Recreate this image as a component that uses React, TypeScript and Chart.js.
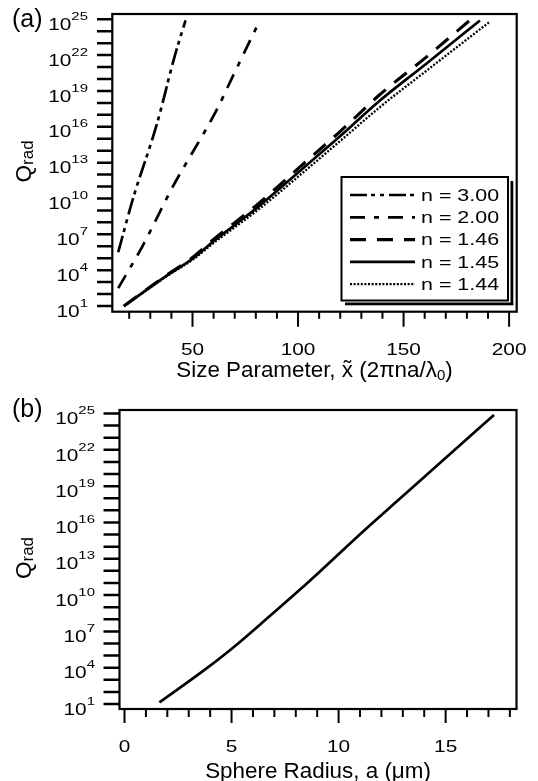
import React, { useEffect, useRef } from "react";
import { Chart, registerables } from "chart.js";

Chart.register(...registerables);

const W = 538;
const FONT = '"Liberation Sans", Arial, Helvetica, sans-serif';

// ---------- Panel (a): Q_rad against size parameter ----------
const seriesLabels = ["n = 3.00", "n = 2.00", "n = 1.46", "n = 1.45", "n = 1.44"];

// size parameter values and log10(Q_rad) for each refractive index
const sizeParam300 = [14.8, 22, 33, 41.7, 46.7];
const logQ300 = [5.5, 10.1, 16.15, 22.0, 24.9];

const sizeParam200 = [14.8, 26.6, 40.1, 61.4, 69.3, 81.9];
const logQ200 = [2.5, 6.1, 10.8, 17.4, 20.3, 24.9];

const sizeParam146 = [17.5, 38.3, 50.3, 59.8, 70.9, 81.1, 100.9, 119.9, 138.8, 160.9, 181.1];
const logQ146 = [1.0, 3.65, 5.1, 6.55, 8.1, 9.55, 12.65, 15.6, 18.7, 21.85, 24.87];

const sizeParam145 = [17.5, 38.3, 50.3, 59.8, 70.9, 81.1, 100.9, 119.9, 138.8, 160.9, 186.2];
const logQ145 = [1.0, 3.6, 5.0, 6.4, 7.9, 9.3, 12.3, 15.2, 18.2, 21.3, 24.9];

const sizeParam144 = [17.5, 38.3, 50.3, 59.8, 70.9, 81.1, 100.9, 119.9, 138.8, 160.9, 190.9];
const logQ144 = [0.98, 3.55, 4.9, 6.25, 7.7, 9.05, 11.95, 14.8, 17.65, 20.7, 24.8];

// ---------- Panel (b): Q_rad against sphere radius (n = 1.45) ----------
const radiusUm = [1.63, 3.8, 5.08, 6.68, 8.29, 9.13, 11.31, 12.87, 14.42, 15.98, 17.26];
const logQRadius = [1.13, 3.9, 5.67, 8.1, 10.6, 11.95, 15.52, 17.97, 20.42, 22.88, 24.88];

// ---------- Axis ticks ----------
const yTickExps = [1, 2, 3, 4, 5, 6, 7, 8, 9, 10, 11, 12, 13, 14, 15, 16, 17, 18, 19, 20, 21, 22, 23, 24, 25];
const yLabelExps = [1, 4, 7, 10, 13, 16, 19, 22, 25];
const xTicksA = [20, 30, 40, 50, 60, 70, 80, 90, 100, 110, 120, 130, 140, 150, 160, 170, 180, 190, 200];
const xLabelsA = [50, 100, 150, 200];
const xTicksB = [0, 1, 2, 3, 4, 5, 6, 7, 8, 9, 10, 11, 12, 13, 14, 15, 16, 17, 18];
const xLabelsB = [0, 5, 10, 15];

// line style per series in panel (a)
const lineStyles = [
  { dash: [17, 4, 4, 5, 4, 5], width: 2.7 },
  { dash: [15, 9, 5, 9], width: 2.7 },
  { dash: [16, 11], width: 3.1 },
  { dash: [] as number[], width: 2.7 },
  { dash: [2, 1.6], width: 2.3 },
];

type Seg = { t: string; size: number; dy?: number; tilde?: boolean };

function textWidth(ctx: CanvasRenderingContext2D, s: string, size: number, sx = 1) {
  ctx.font = `${size}px ${FONT}`;
  return ctx.measureText(s).width * sx;
}

function drawText(
  ctx: CanvasRenderingContext2D,
  s: string,
  x: number,
  y: number,
  size: number,
  sx = 1,
  align: "left" | "center" | "right" = "left"
) {
  const w = textWidth(ctx, s, size, sx);
  let x0 = x;
  if (align === "center") x0 = x - w / 2;
  else if (align === "right") x0 = x - w;
  ctx.save();
  ctx.font = `${size}px ${FONT}`;
  ctx.translate(x0, y);
  ctx.scale(sx, 1);
  ctx.textAlign = "left";
  ctx.textBaseline = "alphabetic";
  ctx.fillStyle = "#000";
  ctx.fillText(s, 0, 0);
  ctx.restore();
  return w;
}

function drawSegments(ctx: CanvasRenderingContext2D, segs: Seg[], cx: number, baseline: number) {
  const total = segs.reduce((acc, s) => acc + textWidth(ctx, s.t, s.size), 0);
  let x = cx - total / 2;
  for (const s of segs) {
    const w = drawText(ctx, s.t, x, baseline + (s.dy || 0), s.size);
    if (s.tilde) drawText(ctx, "\u02DC", x + w / 2, baseline - 1, s.size, 1, "center");
    x += w;
  }
}

interface Deco {
  panelLabel: string;
  panelLabelBaseline: number;
  yLabelRight: number;
  yTickLeft: number;
  xTicks: number[];
  xLabels: number[];
  majorLen: number;
  minorLen: number;
  xLabelOffset: number;
  xTitle: Seg[];
  xTitleOffset: number;
  legend: boolean;
}

function decoPlugin(d: Deco) {
  return {
    id: "frameAndLabels",
    afterDraw(chart: any) {
      const ctx: CanvasRenderingContext2D = chart.ctx;
      const { left, right, top, bottom } = chart.chartArea;
      const xs = chart.scales.x;
      const ys = chart.scales.y;
      ctx.save();
      ctx.strokeStyle = "#000";
      ctx.fillStyle = "#000";

      // plot frame
      ctx.lineWidth = 2.2;
      ctx.setLineDash([]);
      ctx.strokeRect(left, top, right - left, bottom - top);

      // y ticks: one per decade
      ctx.lineWidth = 2.5;
      ctx.beginPath();
      for (const e of yTickExps) {
        const py = ys.getPixelForValue(Math.pow(10, e));
        ctx.moveTo(d.yTickLeft, py);
        ctx.lineTo(left, py);
      }
      ctx.stroke();

      // y labels as 10^e
      for (const e of yLabelExps) {
        const py = ys.getPixelForValue(Math.pow(10, e));
        const sx = 1.3;
        const we = textWidth(ctx, String(e), 11.5, sx);
        const wb = textWidth(ctx, "10", 16, sx);
        drawText(ctx, "10", d.yLabelRight - we - wb, py + 10.7, 16, sx);
        drawText(ctx, String(e), d.yLabelRight - we, py + 0.7, 11.5, sx);
      }

      // x ticks
      ctx.lineWidth = 2;
      ctx.beginPath();
      for (const v of d.xTicks) {
        const px = xs.getPixelForValue(v);
        const len = d.xLabels.includes(v) ? d.majorLen : d.minorLen;
        ctx.moveTo(px, bottom);
        ctx.lineTo(px, bottom + len);
      }
      ctx.stroke();
      for (const v of d.xLabels) {
        const px = xs.getPixelForValue(v);
        drawText(ctx, String(v), px, bottom + d.xLabelOffset, 16, 1.3, "center");
      }

      // x title
      drawSegments(ctx, d.xTitle, (left + right) / 2, bottom + d.xTitleOffset);

      // y title: Q with subscript "rad", rotated
      ctx.save();
      const cy = (top + bottom) / 2 - 1.5;
      ctx.translate(31, cy);
      ctx.rotate(-Math.PI / 2);
      const wq = textWidth(ctx, "Q", 22.5);
      const wr = textWidth(ctx, "rad", 17);
      const x0 = -(wq + wr) / 2;
      ctx.font = `22.5px ${FONT}`;
      ctx.textBaseline = "alphabetic";
      ctx.fillText("Q", x0, 0);
      ctx.font = `17px ${FONT}`;
      ctx.fillText("rad", x0 + wq, 1.5);
      ctx.restore();

      // panel label
      drawText(ctx, d.panelLabel, 12, d.panelLabelBaseline, 25);

      // legend
      if (d.legend) {
        const bx = 341.5, by = 177, bw = 166.5, bh = 123.5;
        ctx.fillStyle = "#fff";
        ctx.fillRect(bx, by, bw, bh);
        ctx.fillStyle = "#000";
        ctx.lineWidth = 2;
        ctx.strokeRect(bx, by, bw, bh);
        ctx.fillRect(bx + bw + 2.5, by + 4, 2.8, bh + 0.5);
        ctx.fillRect(bx + 3.5, by + bh + 2, bw + 1.8, 2.8);
        seriesLabels.forEach((lab, i) => {
          const rowY = 195 + i * 22.3;
          const st = lineStyles[i];
          ctx.lineWidth = st.width;
          ctx.setLineDash(st.dash);
          ctx.lineCap = "butt";
          ctx.beginPath();
          ctx.moveTo(350, rowY);
          ctx.lineTo(415, rowY);
          ctx.stroke();
          ctx.setLineDash([]);
          drawText(ctx, lab, 421, rowY + 5.7, 16, 1.34);
        });
      }
      ctx.restore();
    },
  };
}

function makeDataset(label: string, xs: number[], logs: number[], dash: number[], width: number) {
  return {
    label,
    data: xs.map((x, i) => ({ x, y: Math.pow(10, logs[i]) })),
    borderColor: "#000",
    backgroundColor: "#000",
    borderWidth: width,
    borderDash: dash,
    borderCapStyle: "butt" as const,
    pointRadius: 0,
    fill: false,
    cubicInterpolationMode: "monotone" as const,
  };
}

function configA() {
  const xsets = [sizeParam300, sizeParam200, sizeParam146, sizeParam145, sizeParam144];
  const qsets = [logQ300, logQ200, logQ146, logQ145, logQ144];
  return {
    type: "line" as const,
    data: {
      datasets: seriesLabels.map((lab, i) =>
        makeDataset(lab, xsets[i], qsets[i], lineStyles[i].dash, lineStyles[i].width)
      ),
    },
    options: {
      responsive: false,
      animation: false as const,
      devicePixelRatio: 1,
      events: [],
      layout: { padding: { left: 112.3, top: 14, right: W - 516.7, bottom: 390 - 311.7 } },
      scales: {
        x: { type: "linear" as const, display: false, min: 12, max: 203.6 },
        y: { type: "logarithmic" as const, display: false, min: Math.pow(10, 0.523), max: Math.pow(10, 25.44) },
      },
      plugins: { legend: { display: false }, tooltip: { enabled: false } },
    },
    plugins: [
      decoPlugin({
        panelLabel: "(a)",
        panelLabelBaseline: 26.5,
        yLabelRight: 88,
        yTickLeft: 97,
        xTicks: xTicksA,
        xLabels: xLabelsA,
        majorLen: 15,
        minorLen: 7,
        xLabelOffset: 43.3,
        xTitle: [
          { t: "Size Parameter, ", size: 22.4 },
          { t: "x", size: 22.4, tilde: true },
          { t: " (2\u03C0na/\u03BB", size: 22.4 },
          { t: "0", size: 15, dy: 3 },
          { t: ")", size: 22.4 },
        ],
        xTitleOffset: 64.8,
        legend: true,
      }),
    ],
  };
}

function configB() {
  return {
    type: "line" as const,
    data: {
      datasets: [makeDataset("n = 1.45", radiusUm, logQRadius, [], 2.7)],
    },
    options: {
      responsive: false,
      animation: false as const,
      devicePixelRatio: 1,
      events: [],
      layout: { padding: { left: 119.5, top: 20, right: W - 516.5, bottom: 391 - 319 } },
      scales: {
        x: { type: "linear" as const, display: false, min: -0.234, max: 18.31 },
        y: { type: "logarithmic" as const, display: false, min: Math.pow(10, 0.587), max: Math.pow(10, 25.29) },
      },
      plugins: { legend: { display: false }, tooltip: { enabled: false } },
    },
    plugins: [
      decoPlugin({
        panelLabel: "(b)",
        panelLabelBaseline: 27,
        yLabelRight: 95,
        yTickLeft: 103.5,
        xTicks: xTicksB,
        xLabels: xLabelsB,
        majorLen: 14,
        minorLen: 8,
        xLabelOffset: 43,
        xTitle: [{ t: "Sphere Radius, a (\u03BCm)", size: 22.4 }],
        xTitleOffset: 69,
        legend: false,
      }),
    ],
  };
}

function Panel({ make, top, height }: { make: () => any; top: number; height: number }) {
  const ref = useRef<HTMLCanvasElement>(null);
  useEffect(() => {
    const chart = new Chart(ref.current as HTMLCanvasElement, make());
    return () => chart.destroy();
  }, [make]);
  return (
    <canvas
      ref={ref}
      width={W}
      height={height}
      style={{ position: "absolute", left: 0, top, width: W, height, display: "block" }}
    />
  );
}

export default function App() {
  return (
    <div style={{ position: "fixed", left: 0, top: 0, width: W, height: 781, background: "#fff" }}>
      <Panel make={configA} top={0} height={390} />
      <Panel make={configB} top={390} height={391} />
    </div>
  );
}
